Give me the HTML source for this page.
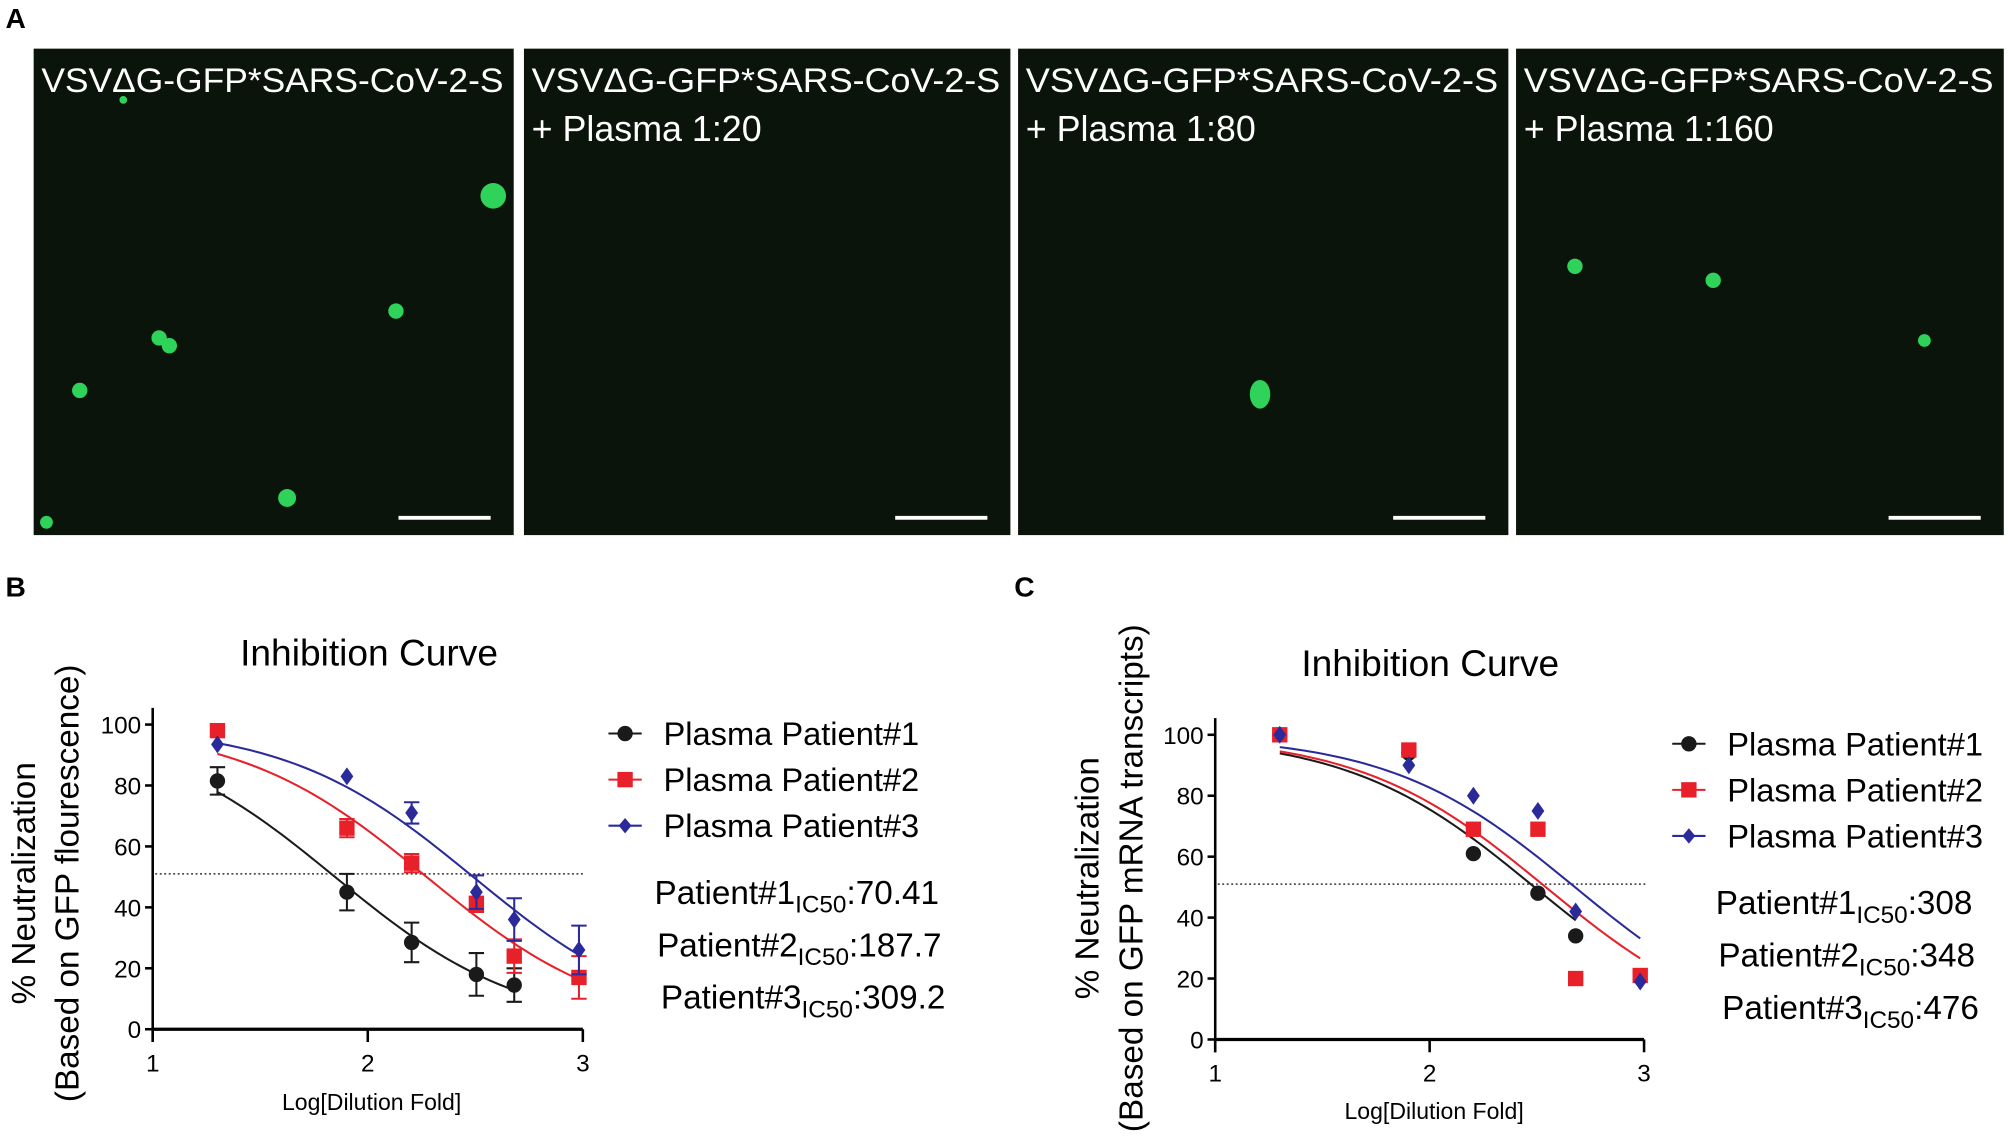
<!DOCTYPE html>
<html><head><meta charset="utf-8"><style>
html,body{margin:0;padding:0;background:#fff;}
svg{display:block;font-family:"Liberation Sans",sans-serif;}
</style></head><body>
<svg id="fig" width="2008" height="1147" viewBox="0 0 1568 896" xmlns="http://www.w3.org/2000/svg">
<rect width="1568" height="896" fill="#fff"/>
<text x="4" y="22" font-size="22" font-weight="bold">A</text>
<text x="4" y="466" font-size="22" font-weight="bold">B</text>
<text x="792" y="466" font-size="22" font-weight="bold">C</text>
<g id="images"></g>
<g id="chartB"></g>
<g id="chartC"></g>
</svg>
<script>
const NS="http://www.w3.org/2000/svg";
function mk(tag,attrs,parent,txt){const e=document.createElementNS(NS,tag);for(const k in attrs)e.setAttribute(k,attrs[k]);if(txt!==undefined)e.textContent=txt;parent.appendChild(e);return e;}

// ---- Panel A micrographs ----
const imgX=[26,409,795,1184];
const imgW=[375,380,383,381];
const imgLine1=["VSVΔG-GFP*SARS-CoV-2-S","VSVΔG-GFP*SARS-CoV-2-S","VSVΔG-GFP*SARS-CoV-2-S","VSVΔG-GFP*SARS-CoV-2-S"];
const imgLine2=["","+ Plasma 1:20","+ Plasma 1:80","+ Plasma 1:160"];
const dots=[
 [[385,153,10],[309,243,6],[124,264,6],[132,270,6],[62,305,6],[224,389,7],[36,408,5],[96,78,3]],
 [],
 [[984,308,8]],
 [[1230,208,6],[1338,219,6],[1503,266,5]]
];
const G=document.getElementById('images');
for(let i=0;i<4;i++){
  const g=mk('g',{},G);
  
  
  mk('rect',{x:imgX[i],y:38,width:imgW[i],height:380,fill:'#0a140b'},g);
  dots[i].forEach(d=>{
    const c=mk('ellipse',{cx:d[0],cy:d[1],rx:d[2],ry:i==2?d[2]*1.4:d[2],fill:'#2fd35a'},g);
    
    
  });
  const t1=mk('text',{x:imgX[i]+6,y:72,'font-size':27,fill:'#fff',textLength:imgW[i]-14,lengthAdjust:'spacingAndGlyphs'},g,imgLine1[i]);
  
  
  if(imgLine2[i]){const t2=mk('text',{x:imgX[i]+6,y:110,'font-size':28,fill:'#fff'},g,imgLine2[i]);
    
    }
  const sb=mk('rect',{x:imgX[i]+imgW[i]-90,y:403,width:72,height:3,fill:'#fff'},g);
  
  
}

// ---- Chart data ----
const xVals=[1.301,1.903,2.204,2.505,2.681,2.982];
const seriesNames=["Plasma Patient#1","Plasma Patient#2","Plasma Patient#3"];
const colors=["#1a1a1a","#e8202a","#2a2a9a"];
const bP1=[81.5,45,28.5,18,14.5];
const bP2=[98,66,54.5,41,24,17];
const bP3=[93.5,83,71,45,36,26];
const bErr1=[4.5,6,6.5,7,5.5];
const bErr2=[0,3,3,2.5,5.5,7];
const bErr3=[0,0,3.5,5.5,7,8];
const bIC50=[70.41,187.7,309.2];
const cP1=[100,94,61,48,34];
const cP2=[100,95,69,69,20,21];
const cP3=[100,90,80,75,42,19];
const cIC50=[308,348,476];
const yTicks=[0,20,40,60,80,100];
const xTicks=[1,2,3];

function drawChart(root,o){
  const sx=v=>o.x0+(v-1)*(o.x1-o.x0)/2;
  const sy=v=>o.y0-v*(o.y0-o.y100)/100;
  const t=mk('text',{x:o.tx,y:o.ty,'font-size':29,'text-anchor':'middle'},root,'Inhibition Curve');
  
  
  const ya=mk('line',{x1:o.x0,y1:o.y100-13,x2:o.x0,y2:o.y0+10,stroke:'#000','stroke-width':2},root);
  
  
  const xa=mk('line',{x1:o.x0,y1:o.y0,x2:o.x1,y2:o.y0,stroke:'#000','stroke-width':2.5},root);
  
  
  yTicks.forEach(v=>{
    mk('line',{x1:o.x0-6,y1:sy(v),x2:o.x0,y2:sy(v),stroke:'#000','stroke-width':2},root);
    const l=mk('text',{x:o.x0-9,y:sy(v)+7,'font-size':19,'text-anchor':'end'},root,v);
    
    
  });
  xTicks.forEach(v=>{
    mk('line',{x1:sx(v),y1:o.y0,x2:sx(v),y2:o.y0+10,stroke:'#000','stroke-width':2},root);
    const l=mk('text',{x:sx(v),y:o.y0+33,'font-size':19,'text-anchor':'middle'},root,v);
    
    
  });
  const xl=mk('text',{x:o.xlx,y:o.xly,'font-size':18,'text-anchor':'middle'},root,'Log[Dilution Fold]');
  
  
  const yl1=mk('text',{x:0,y:0,'font-size':26,'text-anchor':'middle',transform:`translate(${o.ylx1},${o.yly}) rotate(-90)`},root,'% Neutralization');
  
  
  const yl2=mk('text',{x:0,y:0,'font-size':26,'text-anchor':'middle',transform:`translate(${o.ylx2},${o.yly}) rotate(-90)`},root,o.ysub);
  
  
  const dl=mk('line',{x1:o.x0+2,y1:sy(51),x2:o.x1+2,y2:sy(51),stroke:'#333','stroke-width':1.2,'stroke-dasharray':'1.5,2'},root);
  
  
  o.series.forEach((s,si)=>{
    const lic=Math.log10(o.ic50[si]);
    const n=s.length;
    let d='';
    for(let k=0;k<=60;k++){
      const xv=xVals[0]+(xVals[n-1]-xVals[0])*k/60;
      const yv=100/(1+Math.pow(10,xv-lic));
      d+=(k?'L':'M')+sx(xv).toFixed(2)+','+sy(yv).toFixed(2);
    }
    const p=mk('path',{d:d,fill:'none',stroke:colors[si],'stroke-width':1.6},root);
    
    
  });
  o.series.forEach((s,si)=>{
    s.forEach((v,j)=>{
      const cx=sx(xVals[j]),cy=sy(v);
      const e=o.err?o.err[si][j]:0;
      if(e>0){
        const eg=mk('path',{d:`M${cx},${sy(v+e)}L${cx},${sy(v-e)}M${cx-6},${sy(v+e)}L${cx+6},${sy(v+e)}M${cx-6},${sy(v-e)}L${cx+6},${sy(v-e)}`,stroke:colors[si],'stroke-width':1.6,fill:'none'},root);
        
        
      }
      let m;
      if(si==0)m=mk('circle',{cx:cx,cy:cy,r:6,fill:colors[0]},root);
      else if(si==1)m=mk('rect',{x:cx-6,y:cy-6,width:12,height:12,fill:colors[1]},root);
      else m=mk('path',{d:`M${cx},${cy-7}L${cx+5},${cy}L${cx},${cy+7}L${cx-5},${cy}Z`,fill:colors[2]},root);
      
      
    });
  });
  seriesNames.forEach((nm,si)=>{
    const ly=o.ly+si*36;
    const g=mk('g',{},root);
    
    
    mk('line',{x1:o.lx,y1:ly,x2:o.lx+26,y2:ly,stroke:colors[si],'stroke-width':1.6},g);
    const cx=o.lx+13;
    if(si==0)mk('circle',{cx:cx,cy:ly,r:6,fill:colors[0]},g);
    else if(si==1)mk('rect',{x:cx-6,y:ly-6,width:12,height:12,fill:colors[1]},g);
    else mk('path',{d:`M${cx},${ly-6}L${cx+5},${ly}L${cx},${ly+6}L${cx-5},${ly}Z`,fill:colors[2]},g);
    mk('text',{x:o.lx+43,y:ly+9,'font-size':25.5},g,nm);
  });
  o.ic50.forEach((v,si)=>{
    const t=mk('text',{x:o.icx[si],y:o.icy+si*41,'font-size':26},root);
    
    
    mk('tspan',{},t,'Patient#'+(si+1));
    mk('tspan',{'font-size':19,dy:7},t,'IC50');
    mk('tspan',{dy:-7},t,':'+v);
  });
}

drawChart(document.getElementById('chartB'),{x0:119,x1:455,y0:804,y100:566,tx:288,ty:520,xlx:290,xly:867,
 ylx1:27,ylx2:61,yly:690,ysub:'(Based on GFP flourescence)',
 series:[bP1,bP2,bP3],err:[bErr1,bErr2,bErr3],ic50:bIC50,lx:475,ly:573,icx:[511,513,516],icy:706});
drawChart(document.getElementById('chartC'),{x0:949,x1:1284,y0:812,y100:574,tx:1117,ty:528,xlx:1120,xly:874,
 ylx1:858,ylx2:892,yly:686,ysub:'(Based on GFP mRNA transcripts)',
 series:[cP1,cP2,cP3],err:null,ic50:cIC50,lx:1306,ly:581,icx:[1340,1342,1345],icy:714});
</script>
</body></html>
